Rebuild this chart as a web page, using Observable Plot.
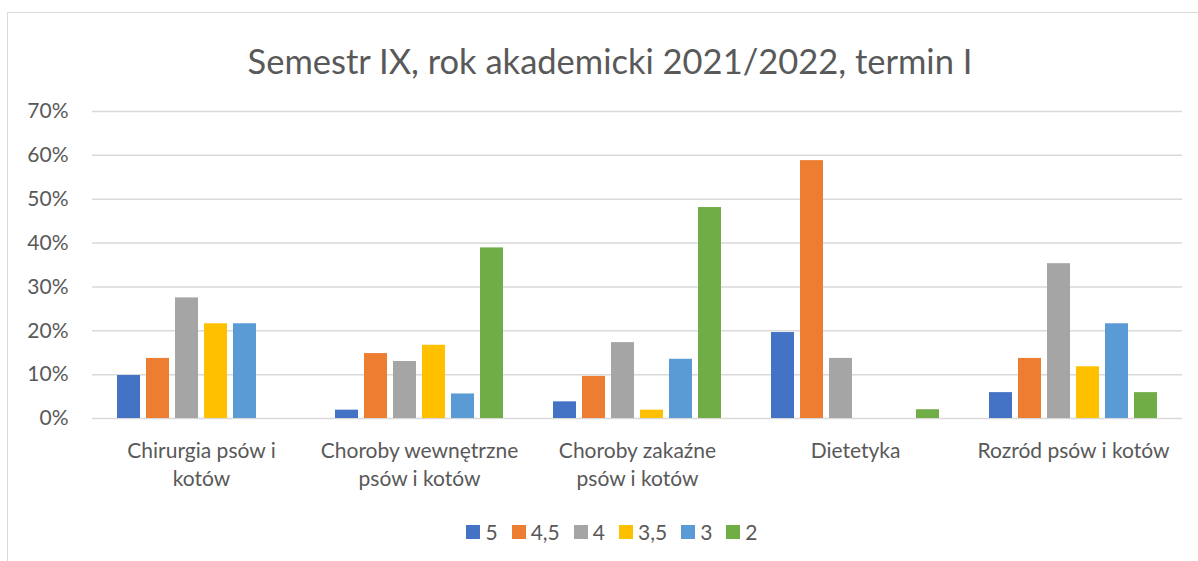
<!DOCTYPE html>
<html>
<head>
<meta charset="utf-8">
<script src="https://cdn.jsdelivr.net/npm/d3@7"></script>
<script src="https://cdn.jsdelivr.net/npm/@observablehq/plot@0.6"></script>
<style>
  html, body { margin: 0; padding: 0; background: #fff; }
  body { width: 1198px; height: 561px; position: relative; overflow: hidden; font-family: Lato, "Open Sans", sans-serif; color: #595959; }
  #frame { position: absolute; left: 7px; top: 12px; width: 1200px; height: 560px; border-left: 1.5px solid #d9d9d9; border-top: 1.5px solid #d9d9d9; }
  #title { position: absolute; left: 0; width: 1220px; top: 40px; text-align: center; font-size: 34.5px; line-height: 42px; }
  #chart { position: absolute; left: 0; top: 90px; }
  #legend { position: absolute; left: 0; width: 1224px; top: 519px; display: flex; justify-content: center; gap: 14px; font-size: 21px; line-height: 26px; }
  .item { display: flex; align-items: center; gap: 5px; }
  .sw { width: 14px; height: 14px; display: inline-block; }
</style>
</head>
<body>
<div id="frame"></div>
<div id="title">Semestr IX, rok akademicki 2021/2022, termin I</div>
<div id="chart"></div>
<div id="legend"></div>
<script>
const categories = ["Chirurgia psów i kotów", "Choroby wewnętrzne psów i kotów", "Choroby zakaźne psów i kotów", "Dietetyka", "Rozród psów i kotów"];
const categoryLabels = ["Chirurgia psów i\nkotów", "Choroby wewnętrzne\npsów i kotów", "Choroby zakaźne\npsów i kotów", "Dietetyka", "Rozród psów i kotów"];
const series = ["5", "4,5", "4", "3,5", "3", "2"];
const colors = ["#4472C4", "#ED7D31", "#A5A5A5", "#FFC000", "#5B9BD5", "#70AD47"];
const v5  = [9.8, 1.9, 3.8, 19.6, 5.9];
const v45 = [13.7, 14.8, 9.6, 58.8, 13.7];
const v4  = [27.5, 13.0, 17.3, 13.7, 35.3];
const v35 = [21.6, 16.7, 1.9, 0, 11.8];
const v3  = [21.6, 5.6, 13.5, 0, 21.6];
const v2  = [0, 38.9, 48.1, 2.0, 5.9];
const yTicks = [0, 10, 20, 30, 40, 50, 60, 70];

const seriesValues = [v5, v45, v4, v35, v3, v2];
const data = [];
categories.forEach((c, i) => {
  series.forEach((s, j) => data.push({category: c, series: s, value: seriesValues[j][i]}));
});
const labelOf = new Map(categories.map((c, i) => [c, categoryLabels[i]]));

const plot = Plot.plot({
  width: 1198,
  height: 408,
  marginLeft: 90,
  marginRight: 15,
  marginTop: 21,
  marginBottom: 80,
  style: {fontFamily: "Lato, 'Open Sans', sans-serif", fontSize: "21px", color: "#595959", background: "transparent"},
  fx: {domain: categories, padding: 0, label: null, axis: null},
  x: {domain: series, paddingInner: 0.21, paddingOuter: 0.84, axis: null},
  y: {domain: [0, 70], label: null, axis: null},
  color: {domain: series, range: colors},
  marks: [
    Plot.ruleY(yTicks, {stroke: "#d9d9d9", strokeWidth: 1.5}),
    Plot.barY(data, {fx: "category", x: "series", y: "value", fill: "series"}),
    Plot.axisFx({anchor: "bottom", tickSize: 0, tickPadding: 20, tickFormat: d => labelOf.get(d), lineHeight: 1.33, fontSize: 21, label: null}),
    Plot.axisY(yTicks, {anchor: "left", tickSize: 0, tickPadding: 24, tickFormat: d => d + "%", fontSize: 21, label: null})
  ]
});
document.getElementById("chart").appendChild(plot);

const legend = document.getElementById("legend");
series.forEach((s, j) => {
  const item = document.createElement("div");
  item.className = "item";
  const sw = document.createElement("span");
  sw.className = "sw";
  sw.style.background = colors[j];
  const t = document.createElement("span");
  t.textContent = s;
  item.appendChild(sw);
  item.appendChild(t);
  legend.appendChild(item);
});
</script>
</body>
</html>
